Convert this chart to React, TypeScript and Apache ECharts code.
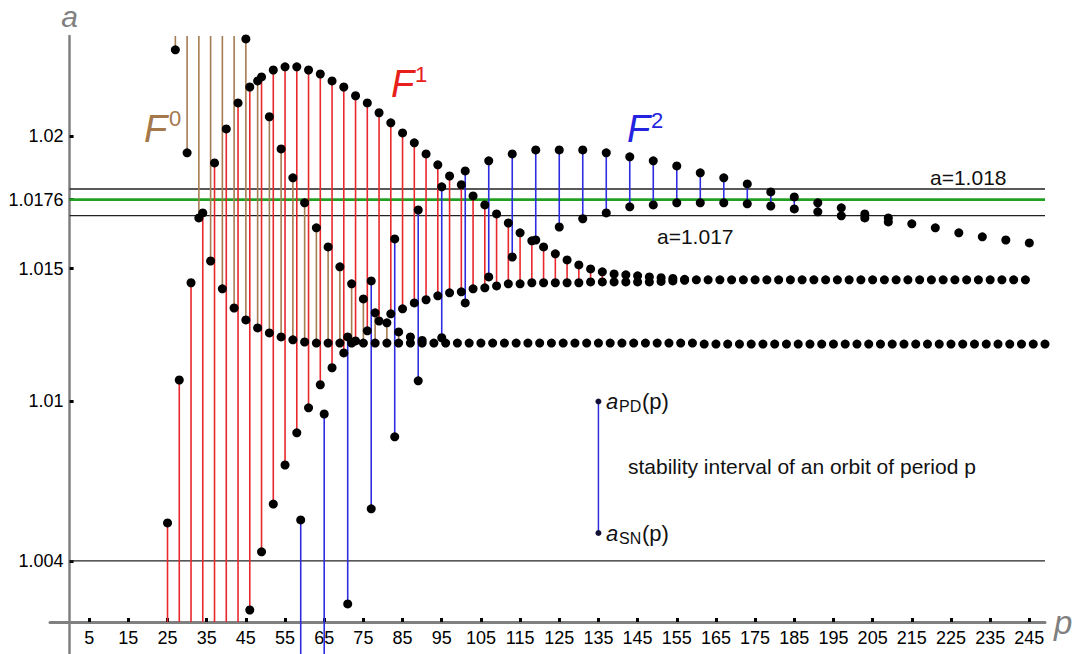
import React, { useEffect, useRef } from "react";
import * as echarts from "echarts";

const FONT = '"Liberation Sans", Arial, sans-serif';

// ---- axes ----
const X_TICKS = [5, 15, 25, 35, 45, 55, 65, 75, 85, 95, 105, 115, 125, 135, 145, 155, 165, 175, 185, 195, 205, 215, 225, 235, 245];
const Y_TICKS = [1.004, 1.01, 1.015, 1.0176, 1.02];
const Y_TICK_LABELS = ["1.004", "1.01", "1.015", "1.0176", "1.02"];

// ---- family F0 (brown): stability intervals [a_SN, a_PD] ----
const F0_P = [27, 30, 33, 36, 39, 42, 45, 48, 51, 54, 57, 60, 63, 66, 69, 72, 75, 78, 81, 84, 87, 90];
const F0_PD = [null, null, null, null, null, null, 1.02365, 1.02207, 1.02072, 1.01951, 1.01842, 1.01748, 1.01654, 1.01582, 1.01507, 1.01443, 1.01386, 1.01334, 1.01296, 1.01262, 1.01243, 1.0123];
const F0_SN = [1.02324, 1.01936, 1.01691, 1.01529, 1.01424, 1.01352, 1.01307, 1.01277, 1.01258, 1.01243, 1.01232, 1.01224, 1.0122, 1.0122, 1.0122, 1.0122, 1.0122, 1.0122, 1.0122, 1.0122, 1.0122, 1.0122];
const F0_TAIL_P = [93, 96, 99, 102, 105, 108, 111, 114, 117, 120, 123, 126, 129, 132, 135, 138, 141, 144, 147, 150, 153, 156, 159, 162, 165, 168, 171, 174, 177, 180, 183, 186, 189, 192, 195, 198, 201, 204, 207, 210, 213, 216, 219, 222, 225, 228, 231, 234, 237, 240, 243, 246, 249];
const F0_TAIL_A = [1.0122, 1.0122, 1.0122, 1.0122, 1.0122, 1.0122, 1.0122, 1.0122, 1.0122, 1.0122, 1.0122, 1.0122, 1.0122, 1.0122, 1.0122, 1.0122, 1.0122, 1.0122, 1.0122, 1.0122, 1.0122, 1.0122, 1.0122, 1.01216, 1.01216, 1.01216, 1.01216, 1.01216, 1.01216, 1.01216, 1.01216, 1.01216, 1.01216, 1.01216, 1.01216, 1.01216, 1.01216, 1.01216, 1.01216, 1.01216, 1.01216, 1.01216, 1.01216, 1.01216, 1.01216, 1.01216, 1.01216, 1.01216, 1.01216, 1.01216, 1.01216, 1.01216, 1.01216];

// ---- family F1 (red) ----
const F1_P = [25, 28, 31, 34, 37, 40, 43, 46, 49, 52, 55, 58, 61, 64, 67, 70, 73, 76, 79, 82, 85, 88, 91, 94, 97, 100, 103, 106, 109, 112, 115, 118, 121, 124, 127, 130, 133, 136, 139, 142, 145, 148, 151, 154, 157];
const F1_PD = [1.00543, 1.01081, 1.01447, 1.0171, 1.01898, 1.02026, 1.02124, 1.02184, 1.02222, 1.02248, 1.0226, 1.0226, 1.02248, 1.02233, 1.02207, 1.02184, 1.02151, 1.02124, 1.02087, 1.02049, 1.02011, 1.01974, 1.01932, 1.01891, 1.01849, 1.01816, 1.01774, 1.0174, 1.01706, 1.01672, 1.01635, 1.01605, 1.01582, 1.01556, 1.01533, 1.01514, 1.01499, 1.01488, 1.0148, 1.01477, 1.01473, 1.01469, 1.01466, 1.01463, 1.0146];
const F1_SN = [null, null, null, null, null, null, null, 1.00215, 1.00434, 1.00614, 1.00761, 1.00882, 1.00976, 1.01063, 1.01127, 1.01183, 1.01228, 1.01266, 1.01303, 1.0133, 1.01349, 1.01371, 1.01383, 1.01398, 1.01409, 1.01413, 1.01424, 1.01428, 1.01435, 1.01443, 1.01443, 1.01447, 1.01447, 1.01447, 1.01447, 1.01447, 1.0145, 1.0145, 1.0145, 1.0145, 1.0145, 1.0145, 1.01452, 1.01454, 1.01456];
const F1_TAIL_P = [160, 163, 166, 169, 172, 175, 178, 181, 184, 187, 190, 193, 196, 199, 202, 205, 208, 211, 214, 217, 220, 223, 226, 229, 232, 235, 238, 241, 244];
const F1_TAIL_A = [1.01458, 1.01458, 1.01458, 1.01458, 1.01458, 1.01458, 1.01458, 1.01458, 1.01458, 1.01458, 1.01458, 1.01458, 1.01458, 1.01458, 1.01458, 1.01458, 1.01458, 1.01458, 1.01458, 1.01458, 1.01458, 1.01458, 1.01458, 1.01458, 1.01458, 1.01458, 1.01458, 1.01458, 1.01458];

// ---- family F2 (blue) ----
const F2_P = [59, 65, 71, 77, 83, 89, 95, 101, 107, 113, 119, 125, 131, 137, 143, 149, 155, 161, 167, 173, 179, 185, 191, 197, 203, 209];
const F2_PD = [1.00554, 1.00953, 1.01243, 1.01454, 1.01612, 1.01721, 1.01808, 1.01868, 1.01906, 1.01932, 1.01947, 1.01947, 1.01947, 1.01936, 1.01921, 1.01906, 1.01887, 1.01861, 1.01842, 1.01819, 1.01789, 1.0177, 1.01748, 1.01729, 1.01706, 1.01691];
const F2_SN = [null, null, 1.00238, 1.00596, 1.00867, 1.01078, 1.0124, 1.01371, 1.01469, 1.01544, 1.01608, 1.01657, 1.01688, 1.0171, 1.01733, 1.0174, 1.01748, 1.01748, 1.01748, 1.01744, 1.01736, 1.01725, 1.01714, 1.01699, 1.01691, 1.01676];
const F2_TAIL_P = [215, 221, 227, 233, 239, 245];
const F2_TAIL_A = [1.01669, 1.01654, 1.01635, 1.0162, 1.01608, 1.01597];

// ---- reference lines and legend sample ----
const REF_BLACK = [1.018, 1.017, 1.004];
const REF_GREEN = [1.0176];
const LEGEND_SAMPLE = [[135, 1.01, 1.00505]];

const X_MIN = -5;
const X_MAX = 249;
const Y_MIN = 1.000494;
const Y_MAX = 1.02376;
const OFF_TOP = 1.03;
const AXIS_LEVEL = 1.0017;
const OFF_BELOW = 0.999;

const GRID_LEFT = 50;
const GRID_RIGHT = 29;
const PLOT_W = 1074 - GRID_LEFT - GRID_RIGHT;
const Y_AXIS_SHIFT = ((0 - X_MIN) / (X_MAX - X_MIN)) * PLOT_W;

const BROWN = "#a67c52";
const RED = "#e8282c";
const BLUE = "#2c2ce0";
const GREEN = "#22a022";

function stems(P: number[], PD: (number | null)[], SN: (number | null)[], top: number, bot: number) {
  return P.map((p, i) => [p, PD[i] ?? top, SN[i] ?? bot]);
}
function dots(P: number[], A: (number | null)[]) {
  const out: number[][] = [];
  P.forEach((p, i) => {
    const v = A[i];
    if (v !== null && v !== undefined) out.push([p, v]);
  });
  return out;
}
function stemRenderer(color: string, width: number) {
  return (params: any, api: any) => {
    const p = api.value(0);
    const a = api.coord([p, api.value(1)]);
    const b = api.coord([p, api.value(2)]);
    return {
      type: "line",
      shape: { x1: a[0], y1: a[1], x2: b[0], y2: b[1] },
      style: { stroke: color, lineWidth: width },
    };
  };
}
function hlineRenderer(color: string, width: number) {
  return (params: any, api: any) => {
    const v = api.value(0);
    const a = api.coord([0, v]);
    const b = api.coord([X_MAX, v]);
    return {
      type: "line",
      shape: { x1: a[0], y1: a[1], x2: b[0], y2: b[1] },
      style: { stroke: color, lineWidth: width },
    };
  };
}

function txt(text: string, x: number, y: number, size: number, color: string, italic = false) {
  return {
    type: "text",
    x,
    y,
    silent: true,
    style: {
      text,
      fill: color,
      fontSize: size,
      fontFamily: FONT,
      fontStyle: italic ? "italic" : "normal",
      align: "left",
      verticalAlign: "middle",
      textAlign: "left",
      textVerticalAlign: "middle",
    },
  };
}

export default function App() {
  const ref = useRef<HTMLDivElement>(null);
  useEffect(() => {
    if (!ref.current) return;
    const chart = echarts.init(ref.current, undefined, { renderer: "svg" });
    const allDots = [
      ...dots(F0_P, F0_PD),
      ...dots(F0_P, F0_SN),
      ...dots(F0_TAIL_P, F0_TAIL_A),
      ...dots(F1_P, F1_PD),
      ...dots(F1_P, F1_SN),
      ...dots(F1_TAIL_P, F1_TAIL_A),
      ...dots(F2_P, F2_PD),
      ...dots(F2_P, F2_SN),
      ...dots(F2_TAIL_P, F2_TAIL_A),
    ];
    const option: any = {
      animation: false,
      backgroundColor: "#ffffff",
      textStyle: { fontFamily: FONT },
      grid: { left: GRID_LEFT, right: GRID_RIGHT, top: 36, bottom: 0, containLabel: false, outerBoundsMode: "none" },
      xAxis: {
        type: "value",
        min: X_MIN,
        max: X_MAX,
        offset: -32,
        name: "p",
        nameLocation: "end",
        nameGap: 9,
        nameTextStyle: { fontSize: 33, fontStyle: "italic", color: "#808080", fontFamily: FONT },
        axisLine: { show: true, onZero: false, lineStyle: { color: "#808080", width: 3 } },
        axisTick: { show: true, inside: true, length: 4, customValues: X_TICKS, lineStyle: { color: "#000", width: 3 } },
        axisLabel: { customValues: X_TICKS, fontSize: 18, color: "#000", fontFamily: FONT, margin: 7 },
        splitLine: { show: false },
      },
      yAxis: {
        type: "value",
        min: Y_MIN,
        max: Y_MAX,
        offset: -Y_AXIS_SHIFT,
        name: "a",
        nameLocation: "end",
        nameGap: 5,
        nameTextStyle: { fontSize: 30, fontStyle: "italic", color: "#808080", fontFamily: FONT },
        axisLine: { show: true, onZero: false, lineStyle: { color: "#808080", width: 2.5 } },
        axisTick: { show: true, inside: true, length: 4, customValues: Y_TICKS, lineStyle: { color: "#000", width: 3 } },
        axisLabel: {
          customValues: Y_TICKS,
          fontSize: 18,
          color: "#000",
          fontFamily: FONT,
          margin: 6,
          formatter: (v: number) => {
            let best = 0;
            Y_TICKS.forEach((t, i) => {
              if (Math.abs(t - v) < Math.abs(Y_TICKS[best] - v)) best = i;
            });
            return Y_TICK_LABELS[best];
          },
        },
        splitLine: { show: false },
      },
      series: [
        { type: "custom", name: "ref", clip: true, z: 1, data: REF_BLACK.map((v) => [v]), renderItem: hlineRenderer("#222", 1.3) },
        { type: "custom", name: "ref-green", clip: true, z: 1, data: REF_GREEN.map((v) => [v]), renderItem: hlineRenderer(GREEN, 2.6) },
        { type: "custom", name: "F0", clip: true, z: 2, data: stems(F0_P, F0_PD, F0_SN, OFF_TOP, AXIS_LEVEL), renderItem: stemRenderer(BROWN, 1.6) },
        { type: "custom", name: "F1", clip: true, z: 2, data: stems(F1_P, F1_PD, F1_SN, OFF_TOP, AXIS_LEVEL), renderItem: stemRenderer(RED, 1.6) },
        { type: "custom", name: "F2", clip: true, z: 2, data: stems(F2_P, F2_PD, F2_SN, OFF_TOP, OFF_BELOW), renderItem: stemRenderer(BLUE, 1.6) },
        {
          type: "custom",
          name: "legend",
          clip: true,
          z: 3,
          data: LEGEND_SAMPLE,
          renderItem: (params: any, api: any) => {
            const p = api.value(0);
            const a = api.coord([p, api.value(1)]);
            const b = api.coord([p, api.value(2)]);
            return {
              type: "group",
              children: [
                { type: "line", shape: { x1: a[0], y1: a[1], x2: b[0], y2: b[1] }, style: { stroke: BLUE, lineWidth: 1.5 } },
                { type: "circle", shape: { cx: a[0], cy: a[1], r: 3 }, style: { fill: "#111133" } },
                { type: "circle", shape: { cx: b[0], cy: b[1], r: 3 }, style: { fill: "#111133" } },
              ],
            };
          },
        },
        {
          type: "scatter",
          name: "dots",
          z: 4,
          symbol: "circle",
          symbolSize: 9,
          itemStyle: { color: "#000", opacity: 1 },
          data: allDots,
          silent: true,
        },
      ],
      graphic: [
        txt("F", 144, 129, 38, "#a5784b", true),
        txt("0", 169, 118, 22, "#a5784b"),
        txt("F", 391, 84, 38, "#e8201c", true),
        txt("1", 415, 74, 22, "#e8201c"),
        txt("F", 627, 129, 38, "#2424e0", true),
        txt("2", 651, 120, 22, "#2424e0"),
        txt("a=1.018", 930, 177, 21, "#111"),
        txt("a=1.017", 657, 236, 21, "#111"),
        txt("stability interval of an orbit of period p", 628, 466, 21, "#111"),
        txt("a", 606, 401, 22, "#111", true),
        txt("PD", 619, 406, 16, "#111"),
        txt("(p)", 642, 401, 22, "#111"),
        txt("a", 606, 533, 22, "#111", true),
        txt("SN", 619, 538, 16, "#111"),
        txt("(p)", 642, 533, 22, "#111"),
      ],
    };
    chart.setOption(option);
    return () => chart.dispose();
  }, []);
  return <div ref={ref} style={{ position: "fixed", left: 0, top: 0, width: 1074, height: 654, background: "#fff" }} />;
}
